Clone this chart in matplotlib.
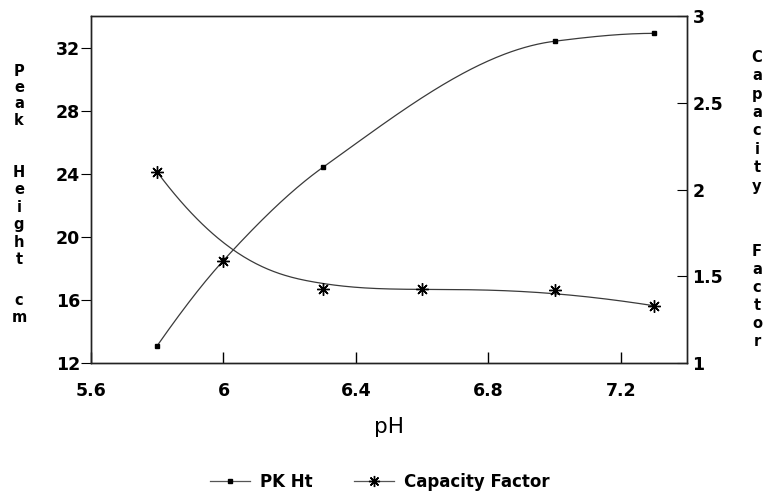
import numpy as np
import matplotlib
matplotlib.use('Agg')
from matplotlib import pyplot as plt

plt.rcParams['font.family'] = ['DejaVu Sans']

# data
ph_pk = [5.8, 6.0, 6.3, 7.0, 7.3]
pk_ht = [13.1, 18.5, 24.4, 32.4, 32.9]

ph_cf = [5.8, 6.0, 6.3, 6.6, 7.0, 7.3]
cap_factor = [2.10, 1.59, 1.425, 1.425, 1.42, 1.33]

x_ticks = [5.6, 6.0, 6.4, 6.8, 7.2]
x_labels = ['5.6', '6', '6.4', '6.8', '7.2']
left_ticks = [12, 16, 20, 24, 28, 32]
right_ticks = [1, 1.5, 2, 2.5, 3]
right_labels = ['1', '1.5', '2', '2.5', '3']


def pchip(x, y, n=300):
    # monotone cubic through the points (PK Ht line passes through its dots)
    x = np.asarray(x, float)
    y = np.asarray(y, float)
    xs = np.linspace(x[0], x[-1], n)
    h = np.diff(x)
    m = np.diff(y) / h
    npt = len(x)
    d = np.zeros(npt)
    for k in range(1, npt - 1):
        if m[k - 1] * m[k] > 0:
            w1 = 2 * h[k] + h[k - 1]
            w2 = h[k] + 2 * h[k - 1]
            d[k] = (w1 + w2) / (w1 / m[k - 1] + w2 / m[k])
    d[0] = ((2 * h[0] + h[1]) * m[0] - h[0] * m[1]) / (h[0] + h[1])
    if np.sign(d[0]) != np.sign(m[0]):
        d[0] = 0
    d[-1] = ((2 * h[-1] + h[-2]) * m[-1] - h[-1] * m[-2]) / (h[-1] + h[-2])
    if np.sign(d[-1]) != np.sign(m[-1]):
        d[-1] = 0
    idx = np.clip(np.searchsorted(x, xs) - 1, 0, npt - 2)
    t = (xs - x[idx]) / h[idx]
    h00 = 2 * t**3 - 3 * t**2 + 1
    h10 = t**3 - 2 * t**2 + t
    h01 = -2 * t**3 + 3 * t**2
    h11 = t**3 - t**2
    ys = h00 * y[idx] + h10 * h[idx] * d[idx] + h01 * y[idx + 1] + h11 * h[idx] * d[idx + 1]
    return xs, ys


def bspline(px, py, n=300):
    # clamped cubic B-spline with the data points as control points
    # (the capacity factor line is smoothed, not through every star)
    px = np.asarray(px, float)
    py = np.asarray(py, float)
    m = len(px)
    k = 3
    inner = np.arange(1, m - k)
    knots = np.concatenate([np.zeros(k + 1), inner, np.full(k + 1, m - k)])
    t = np.linspace(0, m - k, n)
    t[-1] -= 1e-9
    B = np.zeros((n, len(knots) - 1))
    for i in range(len(knots) - 1):
        B[:, i] = (t >= knots[i]) & (t < knots[i + 1])
    for d in range(1, k + 1):
        Bn = np.zeros((n, len(knots) - 1 - d))
        for i in range(len(knots) - 1 - d):
            a = knots[i + d] - knots[i]
            b = knots[i + d + 1] - knots[i + 1]
            left = (t - knots[i]) / a * B[:, i] if a > 0 else 0
            right = (knots[i + d + 1] - t) / b * B[:, i + 1] if b > 0 else 0
            Bn[:, i] = left + right
        B = Bn
    return B @ px, B @ py


fig = plt.figure(figsize=(7.72, 4.91), dpi=100)
ax = fig.add_axes([0.1179, 0.2607, 0.7720, 0.7067])
ax2 = ax.twinx()

line_col = '#3a3a3a'

sx, sy = pchip(ph_pk, pk_ht)
ax.plot(sx, sy, color=line_col, lw=0.9)
ax.plot(ph_pk, pk_ht, ls='none', marker='s', ms=2.3, color='black')

sx, sy = bspline(ph_cf, cap_factor)
ax2.plot(sx, sy, color=line_col, lw=0.9)
ax2.plot(ph_cf, cap_factor, ls='none', marker=(8, 2, 0), ms=9, mew=1.0, color='black')

ax.set_xlim(5.6, 7.4)
ax.set_ylim(12, 34)
ax2.set_ylim(1, 3)

ax.set_xticks(x_ticks)
ax.set_xticklabels(x_labels, fontsize=12.5, fontweight='bold')
ax.set_yticks(left_ticks)
ax.set_yticklabels([str(v) for v in left_ticks], fontsize=12.5, fontweight='bold')
ax2.set_yticks(right_ticks)
ax2.set_yticklabels(right_labels, fontsize=12.5, fontweight='bold')

ax.tick_params(axis='x', direction='in', length=8, width=1, pad=14)
ax.tick_params(axis='y', direction='out', length=7, width=0.8, pad=1)
ax2.tick_params(axis='y', direction='in', length=7, width=0.8, pad=4)
ax.tick_params(top=False)

for a in (ax, ax2):
    for s in a.spines.values():
        s.set_linewidth(1.0)
        s.set_color('#222222')

ax.set_xlabel('pH', fontsize=15.5, labelpad=12)

# stacked vertical axis titles
fig.text(19 / 772, 1 - 64 / 491, '\n'.join('Peak'), ha='center', va='top',
         fontsize=10.5, fontweight='bold', linespacing=1.1)
fig.text(19 / 772, 1 - 165 / 491, '\n'.join('Height'), ha='center', va='top',
         fontsize=10.5, fontweight='bold', linespacing=1.2)
fig.text(19 / 772, 1 - 293 / 491, '\n'.join('cm'), ha='center', va='top',
         fontsize=10.5, fontweight='bold', linespacing=1.2)
fig.text(757 / 772, 1 - 50 / 491, '\n'.join('Capacity'), ha='center', va='top',
         fontsize=10.5, fontweight='bold', linespacing=1.28)
fig.text(757 / 772, 1 - 244 / 491, '\n'.join('Factor'), ha='center', va='top',
         fontsize=10.5, fontweight='bold', linespacing=1.25)

h1, = ax.plot([], [], color='#555555', lw=0.9, marker='s', ms=2.3, mec='black', mfc='black')
h2, = ax.plot([], [], color='#555555', lw=0.9, marker=(8, 2, 0), ms=8, mew=1.0,
              mec='black')
leg = fig.legend([h1, h2], ['PK Ht', 'Capacity Factor'], loc='center',
                 bbox_to_anchor=(0.492, 0.018), ncol=2, frameon=False,
                 handlelength=2.4, columnspacing=2.5, handletextpad=0.6,
                 borderpad=0, prop={'size': 12, 'weight': 'bold'})

fig.savefig('out.png', dpi=100)
